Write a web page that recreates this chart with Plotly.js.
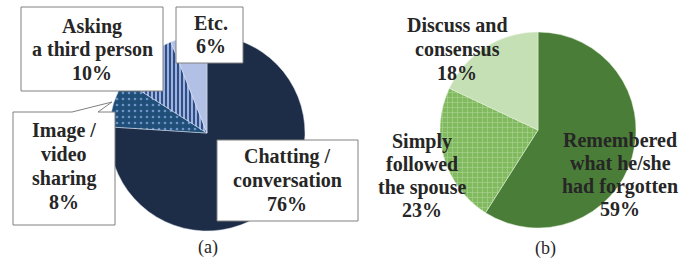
<!DOCTYPE html>
<html>
<head>
<meta charset="utf-8">
<script src="https://cdn.plot.ly/plotly-3.0.1.min.js"></script>
<style>
html,body{margin:0;padding:0;background:#fff;}
#chart{width:694px;height:267px;}
</style>
</head>
<body>
<div id="chart"></div>
<script>
// ---- data ----
const labelsA = ["Chatting / conversation", "Image / video sharing", "Asking a third person", "Etc."];
const valuesA = [76, 8, 10, 6];
const textLinesA = [["Chatting /", "conversation", "76%"], ["Image /", "video", "sharing", "8%"], ["Asking", "a third person", "10%"], ["Etc.", "6%"]];

const labelsB = ["Remembered what he/she had forgotten", "Simply followed the spouse", "Discuss and consensus"];
const valuesB = [59, 23, 18];
const textLinesB = [["Remembered", "what he/she", "had forgotten", "59%"], ["Simply", "followed", "the spouse", "23%"], ["Discuss and", "consensus", "18%"]];

const captions = ["(a)", "(b)"];

// ---- layout helpers ----
const W = 694, H = 267;
const px = x => x / W;
const py = y => 1 - y / H;
function dom(cx, cy, r) {
  return { x: [px(cx - r), px(cx + r)], y: [py(cy + r), py(cy - r)] };
}

const traceA = {
  type: "pie", labels: labelsA, values: valuesA, sort: false, direction: "clockwise", rotation: 0,
  textinfo: "none", hoverinfo: "none", domain: dom(207, 133, 98),
  marker: {
    colors: ["#1e2d47", "#1f4e79", "#5a77ad", "#b3c0e6"],
    line: { color: "#dfe5f2", width: 0.5 },
    pattern: {
      shape: ["", ".", "|", ""],
      bgcolor: ["#1e2d47", "#1f4e79", "#9db2df", "#b3c0e6"],
      fgcolor: ["#1e2d47", "#6f93c4", "#2f4f86", "#b3c0e6"],
      size: [8, 6, 4, 8], solidity: [0.2, 0.15, 0.5, 0.2], fillmode: "replace"
    }
  }
};
const traceB = {
  type: "pie", labels: labelsB, values: valuesB, sort: false, direction: "clockwise", rotation: 0,
  textinfo: "none", hoverinfo: "none", domain: dom(538, 130, 98),
  marker: {
    colors: ["#4a7d38", "#84bc62", "#c5e0b4"],
    line: { color: "#e8f2e0", width: 0.5 },
    pattern: {
      shape: ["", "+", ""],
      bgcolor: ["#4a7d38", "#80b95e", "#c5e0b4"],
      fgcolor: ["#4a7d38", "#a8d28e", "#c5e0b4"],
      size: [8, 5, 8], solidity: [0.2, 0.25, 0.2], fillmode: "replace"
    }
  }
};

// label boxes (pixel coords)
function rectPath(x0, y0, x1, y1) {
  return `M${px(x0)},${py(y0)} L${px(x1)},${py(y0)} L${px(x1)},${py(y1)} L${px(x0)},${py(y1)} Z`;
}
const boxStyle = { type: "path", xref: "paper", yref: "paper", layer: "above", fillcolor: "#ffffff", line: { color: "#808080", width: 1 } };
const imgPath = `M${px(13)},${py(112)} L${px(72)},${py(112)} L${px(112)},${py(102)} L${px(98)},${py(112)} L${px(115)},${py(112)} L${px(115)},${py(225)} L${px(13)},${py(225)} Z`;
const shapes = [
  Object.assign({}, boxStyle, { path: rectPath(217, 140, 358, 221) }),
  Object.assign({}, boxStyle, { path: imgPath }),
  Object.assign({}, boxStyle, { path: rectPath(21, 7, 163, 91) }),
  Object.assign({}, boxStyle, { path: rectPath(176, 7, 243, 63) })
];

// text line anchors: [center x, first baseline, spacing]
const anchorsA = [[287, 163, 24], [64, 137, 24], [92, 33, 23.5], [211, 30, 23]];
const anchorsB = [[620, 147, 23], [422, 148, 23], [457, 32, 24]];
const annotations = [];
function addLines(lines, anchors) {
  lines.forEach((ls, i) => {
    const [cx, b0, sp] = anchors[i];
    ls.forEach((t, j) => {
      annotations.push({
        xref: "paper", yref: "paper", x: px(cx), y: py(b0 + j * sp - 6.8),
        xanchor: "center", yanchor: "middle", text: t, showarrow: false,
        font: { family: "Liberation Serif", size: 20, color: "#262626", weight: "bold" }
      });
    });
  });
}
addLines(textLinesA, anchorsA);
addLines(textLinesB, anchorsB);
[[208, 247], [545, 248]].forEach((p, i) => {
  annotations.push({
    xref: "paper", yref: "paper", x: px(p[0]), y: py(p[1]), xanchor: "center", yanchor: "middle",
    text: captions[i], showarrow: false,
    font: { family: "Liberation Serif", size: 18, color: "#262626" }
  });
});

Plotly.newPlot("chart", [traceA, traceB], {
  width: W, height: H, margin: { l: 0, r: 0, t: 0, b: 0 },
  font: { family: "Liberation Serif", size: 18, color: "#262626" },
  paper_bgcolor: "#ffffff", showlegend: false, shapes: shapes, annotations: annotations
}, { displayModeBar: false, staticPlot: true }).then(function () {
  document.querySelectorAll("#chart text").forEach(function (t) {
    t.style.setProperty("font-family", "'Liberation Serif', serif", "important");
  });
});
</script>
</body>
</html>
